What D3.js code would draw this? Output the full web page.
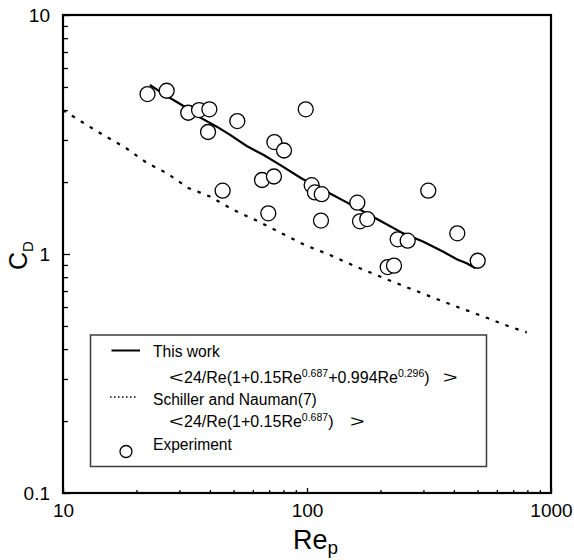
<!DOCTYPE html>
<html><head><meta charset="utf-8">
<script src="https://cdn.jsdelivr.net/npm/d3@7"></script>
<style>
body{margin:0;background:#fff}
svg{display:block}
text{font-family:"Liberation Sans",Arial,Helvetica,sans-serif;fill:#000}
</style>
</head><body>
<svg id="chart" width="574" height="560"></svg>
<script>
// ---- data ----
const thisWorkRe = [22.7, 26.6, 30.7, 36.4, 42.7, 48.4, 56.6, 66.2, 77.5, 95.1, 124.3, 154.8, 196, 248, 300, 362, 411, 451, 491];
const thisWorkCd = [5.10, 4.58, 4.20, 3.73, 3.41, 3.15, 2.83, 2.60, 2.36, 2.07, 1.79, 1.59, 1.39, 1.22, 1.126, 1.022, 0.950, 0.914, 0.871];

const schillerRe = [10, 12.1, 14.6, 17.9, 22.0, 26.6, 32.6, 40.0, 49.9, 61.2, 78.8, 98.1, 124.3, 164.8, 224.4, 301.7, 404.2, 553, 679, 795];
const schillerCd = [4.00, 3.54, 3.15, 2.80, 2.41, 2.18, 1.89, 1.74, 1.53, 1.39, 1.22, 1.09, 0.99, 0.871, 0.766, 0.680, 0.606, 0.538, 0.496, 0.470];

const expRe = [22.2, 26.6, 32.6, 36.1, 39.8, 39.3, 51.8, 45.1, 73.5, 80.5, 65.4, 73.2, 69.4, 98.8, 104.5, 107.8, 114.9, 114.1, 160.8, 164.9, 176.6, 314, 235.3, 258.6, 214.1, 227.3, 413, 500.7];
const expCd = [4.67, 4.82, 3.90, 4.00, 4.03, 3.24, 3.60, 1.84, 2.94, 2.71, 2.04, 2.11, 1.48, 4.03, 1.94, 1.81, 1.78, 1.38, 1.64, 1.37, 1.40, 1.84, 1.152, 1.137, 0.882, 0.894, 1.22, 0.937];

const xTickValues = [10, 100, 1000];
const xTickLabels = ["10", "100", "1000"];
const yTickValues = [0.1, 1, 10];
const yTickLabels = ["0.1", "1", "10"];

const legendLabels = ["This work", "Schiller and Nauman(7)", "Experiment"];

// ---- layout ----
const svg = d3.select("#chart");
const L = 63, R = 551, T = 15, B = 493;
const x = d3.scaleLog().domain([10, 1000]).range([L, R]);
const y = d3.scaleLog().domain([0.1, 10]).range([B, T]);

function minorTicks(lo, hi) {
  const out = [];
  for (let d = lo; d < hi; d *= 10)
    for (let k = 2; k <= 9; k++) out.push(d * k);
  return out;
}

// minor ticks
const gxMinor = svg.append("g").attr("transform", `translate(0,${B})`)
  .call(d3.axisBottom(x).tickValues(minorTicks(10, 1000)).tickSizeInner(-3).tickSizeOuter(0).tickFormat(""));
const gyMinor = svg.append("g").attr("transform", `translate(${L},0)`)
  .call(d3.axisLeft(y).tickValues(minorTicks(0.1, 10)).tickSizeInner(-5).tickSizeOuter(0).tickFormat(""));
// major ticks + labels
const gx = svg.append("g").attr("transform", `translate(0,${B})`)
  .call(d3.axisBottom(x).tickValues(xTickValues).tickSizeInner(-5).tickSizeOuter(0).tickPadding(10.5)
    .tickFormat((d, i) => xTickLabels[i]));
const gy = svg.append("g").attr("transform", `translate(${L},0)`)
  .call(d3.axisLeft(y).tickValues(yTickValues).tickSizeInner(-7).tickSizeOuter(0).tickPadding(13)
    .tickFormat((d, i) => yTickLabels[i]));
[gxMinor, gyMinor, gx, gy].forEach(g => {
  g.select(".domain").remove();
  g.selectAll(".tick line").attr("stroke", "#000").attr("stroke-width", 1.3);
  g.selectAll("text").attr("font-size", 19).attr("font-family", '"Liberation Sans",Arial,sans-serif').attr("fill", "#000");
});

// ---- lines ----
const line = d3.line().x(d => x(d[0])).y(d => y(d[1]));
const schData = schillerRe.map((r, i) => [r, schillerCd[i]]);
const twData = thisWorkRe.map((r, i) => [r, thisWorkCd[i]]);

svg.append("path").datum(schData).attr("d", line)
  .attr("fill", "none").attr("stroke", "#000").attr("stroke-width", 2.2)
  .attr("stroke-dasharray", "3.5,7");
svg.append("path").datum(twData).attr("d", line)
  .attr("fill", "none").attr("stroke", "#000").attr("stroke-width", 2.2);

// ---- experimental points ----
svg.append("g").selectAll("circle").data(expRe.map((r, i) => [r, expCd[i]])).join("circle")
  .attr("cx", d => x(d[0])).attr("cy", d => y(d[1])).attr("r", 7.5)
  .attr("fill", "#fff").attr("stroke", "#000").attr("stroke-width", 1.3);

// ---- frame ----
svg.append("rect").attr("x", L).attr("y", T).attr("width", R - L).attr("height", B - T)
  .attr("fill", "none").attr("stroke", "#000").attr("stroke-width", 2.2);

// ---- legend ----
const lg = svg.append("g");
lg.append("rect").attr("x", 90.5).attr("y", 335).attr("width", 396).attr("height", 131.5)
  .attr("fill", "#fff").attr("stroke", "#3c3c3c").attr("stroke-width", 1.5);
lg.append("line").attr("x1", 111.5).attr("x2", 140).attr("y1", 350.5).attr("y2", 350.5)
  .attr("stroke", "#000").attr("stroke-width", 2);
lg.append("line").attr("x1", 110).attr("x2", 138).attr("y1", 397).attr("y2", 397)
  .attr("stroke", "#000").attr("stroke-width", 1.6).attr("stroke-dasharray", "1.5,2.5");
lg.append("circle").attr("cx", 126).attr("cy", 451.5).attr("r", 6)
  .attr("fill", "#fff").attr("stroke", "#000").attr("stroke-width", 1.3);

const fs = 15.6, ffs = 16, sfs = 10.5;
lg.append("text").attr("x", 153).attr("y", 357).attr("font-size", fs).text(legendLabels[0]);
lg.append("text").attr("x", 153).attr("y", 405).attr("font-size", fs).text(legendLabels[1]);
lg.append("text").attr("x", 153).attr("y", 450).attr("font-size", fs).text(legendLabels[2]);

// wide angle brackets (stretched horizontally as in the original)
function bracket(ch, bx, by) {
  lg.append("text").attr("transform", `translate(${bx},${by}) scale(1.6,1)`)
    .attr("font-size", fs).text(ch);
}

bracket("<", 169, 383);
const f1 = lg.append("text").attr("x", 184).attr("y", 383).attr("font-size", ffs);
f1.append("tspan").text("24/Re(1+0.15Re");
f1.append("tspan").attr("font-size", sfs).attr("dy", -6).text("0.687");
f1.append("tspan").attr("dy", 6).text("+0.994Re");
f1.append("tspan").attr("font-size", sfs).attr("dy", -6).text("0.296");
f1.append("tspan").attr("dy", 6).text(")");
bracket(">", 443, 383);

bracket("<", 169, 427);
const f2 = lg.append("text").attr("x", 184).attr("y", 427).attr("font-size", ffs);
f2.append("tspan").text("24/Re(1+0.15Re");
f2.append("tspan").attr("font-size", sfs).attr("dy", -6).text("0.687");
f2.append("tspan").attr("dy", 6).text(")");
bracket(">", 350, 427);

// ---- axis titles ----
const xt = svg.append("text").attr("x", 293).attr("y", 549).attr("font-size", 27);
xt.append("tspan").text("Re");
xt.append("tspan").attr("font-size", 19).attr("dy", 5).text("p");

const yt = svg.append("text").attr("transform", "translate(27,270) rotate(-90)").attr("font-size", 25);
yt.append("tspan").text("C");
yt.append("tspan").attr("font-size", 15).attr("dy", 6).text("D");
</script>
</body></html>
